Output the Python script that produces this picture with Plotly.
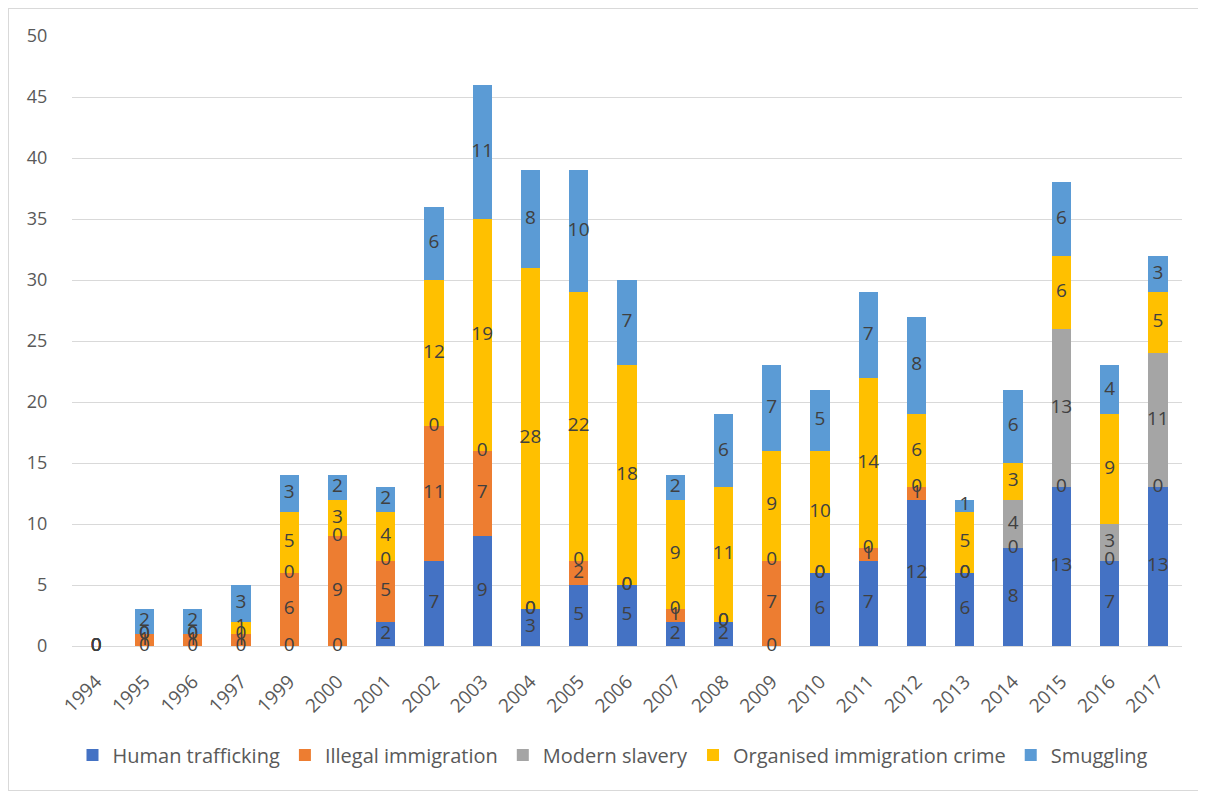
import plotly.graph_objects as go

years = ["1994", "1995", "1996", "1997", "1999", "2000", "2001", "2002", "2003", "2004", "2005",
         "2006", "2007", "2008", "2009", "2010", "2011", "2012", "2013", "2014", "2015", "2016", "2017"]
human_trafficking = [0, 0, 0, 0, 0, 0, 2, 7, 9, 3, 5, 5, 2, 2, 0, 6, 7, 12, 6, 8, 13, 7, 13]
illegal_immigration = [0, 1, 1, 1, 6, 9, 5, 11, 7, 0, 2, 0, 1, 0, 7, 0, 1, 1, 0, 0, 0, 0, 0]
modern_slavery = [0, 0, 0, 0, 0, 0, 0, 0, 0, 0, 0, 0, 0, 0, 0, 0, 0, 0, 0, 4, 13, 3, 11]
organised_crime = [0, 0, 0, 1, 5, 3, 4, 12, 19, 28, 22, 18, 9, 11, 9, 10, 14, 6, 5, 3, 6, 9, 5]
smuggling = [0, 2, 2, 3, 3, 2, 2, 6, 11, 8, 10, 7, 2, 6, 7, 5, 7, 8, 1, 6, 6, 4, 3]

series = [
    ("Human trafficking", human_trafficking, "#4472C4"),
    ("Illegal immigration", illegal_immigration, "#ED7D31"),
    ("Modern slavery", modern_slavery, "#A5A5A5"),
    ("Organised immigration crime", organised_crime, "#FFC000"),
    ("Smuggling", smuggling, "#5B9BD5"),
]

FONT = "Open Sans"
TXT = "#404040"
AX = "#595959"
CLEAR = "rgba(0,0,0,0)"

fig = go.Figure()
base = [0] * len(years)
label_x, label_y, label_t = [], [], []
for name, vals, col in series:
    fig.add_trace(go.Bar(x=years, y=vals, name=name, marker=dict(color=col, line=dict(width=0))))
    for i, v in enumerate(vals):
        label_x.append(years[i])
        label_y.append(base[i] + v / 2)
        label_t.append(str(v))
        base[i] += v

fig.add_trace(go.Scatter(x=label_x, y=label_y, text=label_t, mode="text",
                         textfont=dict(family=FONT, size=19, color=TXT),
                         showlegend=False, hoverinfo="skip", cliponaxis=False))

# page has an 8px body margin; size the figure so it ends at the window edge
W, H = 1198, 783
px0, px1 = 64, 1174      # plot area in figure pixels
py0, py1 = 28, 638

fig.update_layout(
    width=W, height=H,
    barmode="stack", bargap=0.6,
    plot_bgcolor="white", paper_bgcolor="white",
    margin=dict(l=0, r=0, t=0, b=0, autoexpand=False),
    font=dict(family=FONT, color=AX),
    legend=dict(orientation="h", x=605 / W, xanchor="center", y=1 - 747 / H, yanchor="middle",
                font=dict(size=20, color=AX), traceorder="normal", itemwidth=30),
    xaxis=dict(type="category", tickangle=-45, tickfont=dict(size=19, color=AX),
               domain=[px0 / W, px1 / W], range=[-0.5, len(years) - 0.5],
               showgrid=False, showline=False, automargin=False,
               ticks="outside", ticklen=16, tickcolor=CLEAR),
    yaxis=dict(range=[0, 50], dtick=5, tickfont=dict(size=18, color=AX),
               domain=[1 - py1 / H, 1 - py0 / H],
               gridcolor="#D9D9D9", gridwidth=1, zeroline=True, zerolinecolor="#D9D9D9",
               zerolinewidth=1, automargin=False,
               ticks="outside", ticklen=20, tickcolor=CLEAR),
    shapes=[dict(type="rect", xref="paper", yref="paper", x0=0, x1=1, y0=0, y1=1,
                 line=dict(color="#D9D9D9", width=2))],
)

fig.write_html("out.html")
